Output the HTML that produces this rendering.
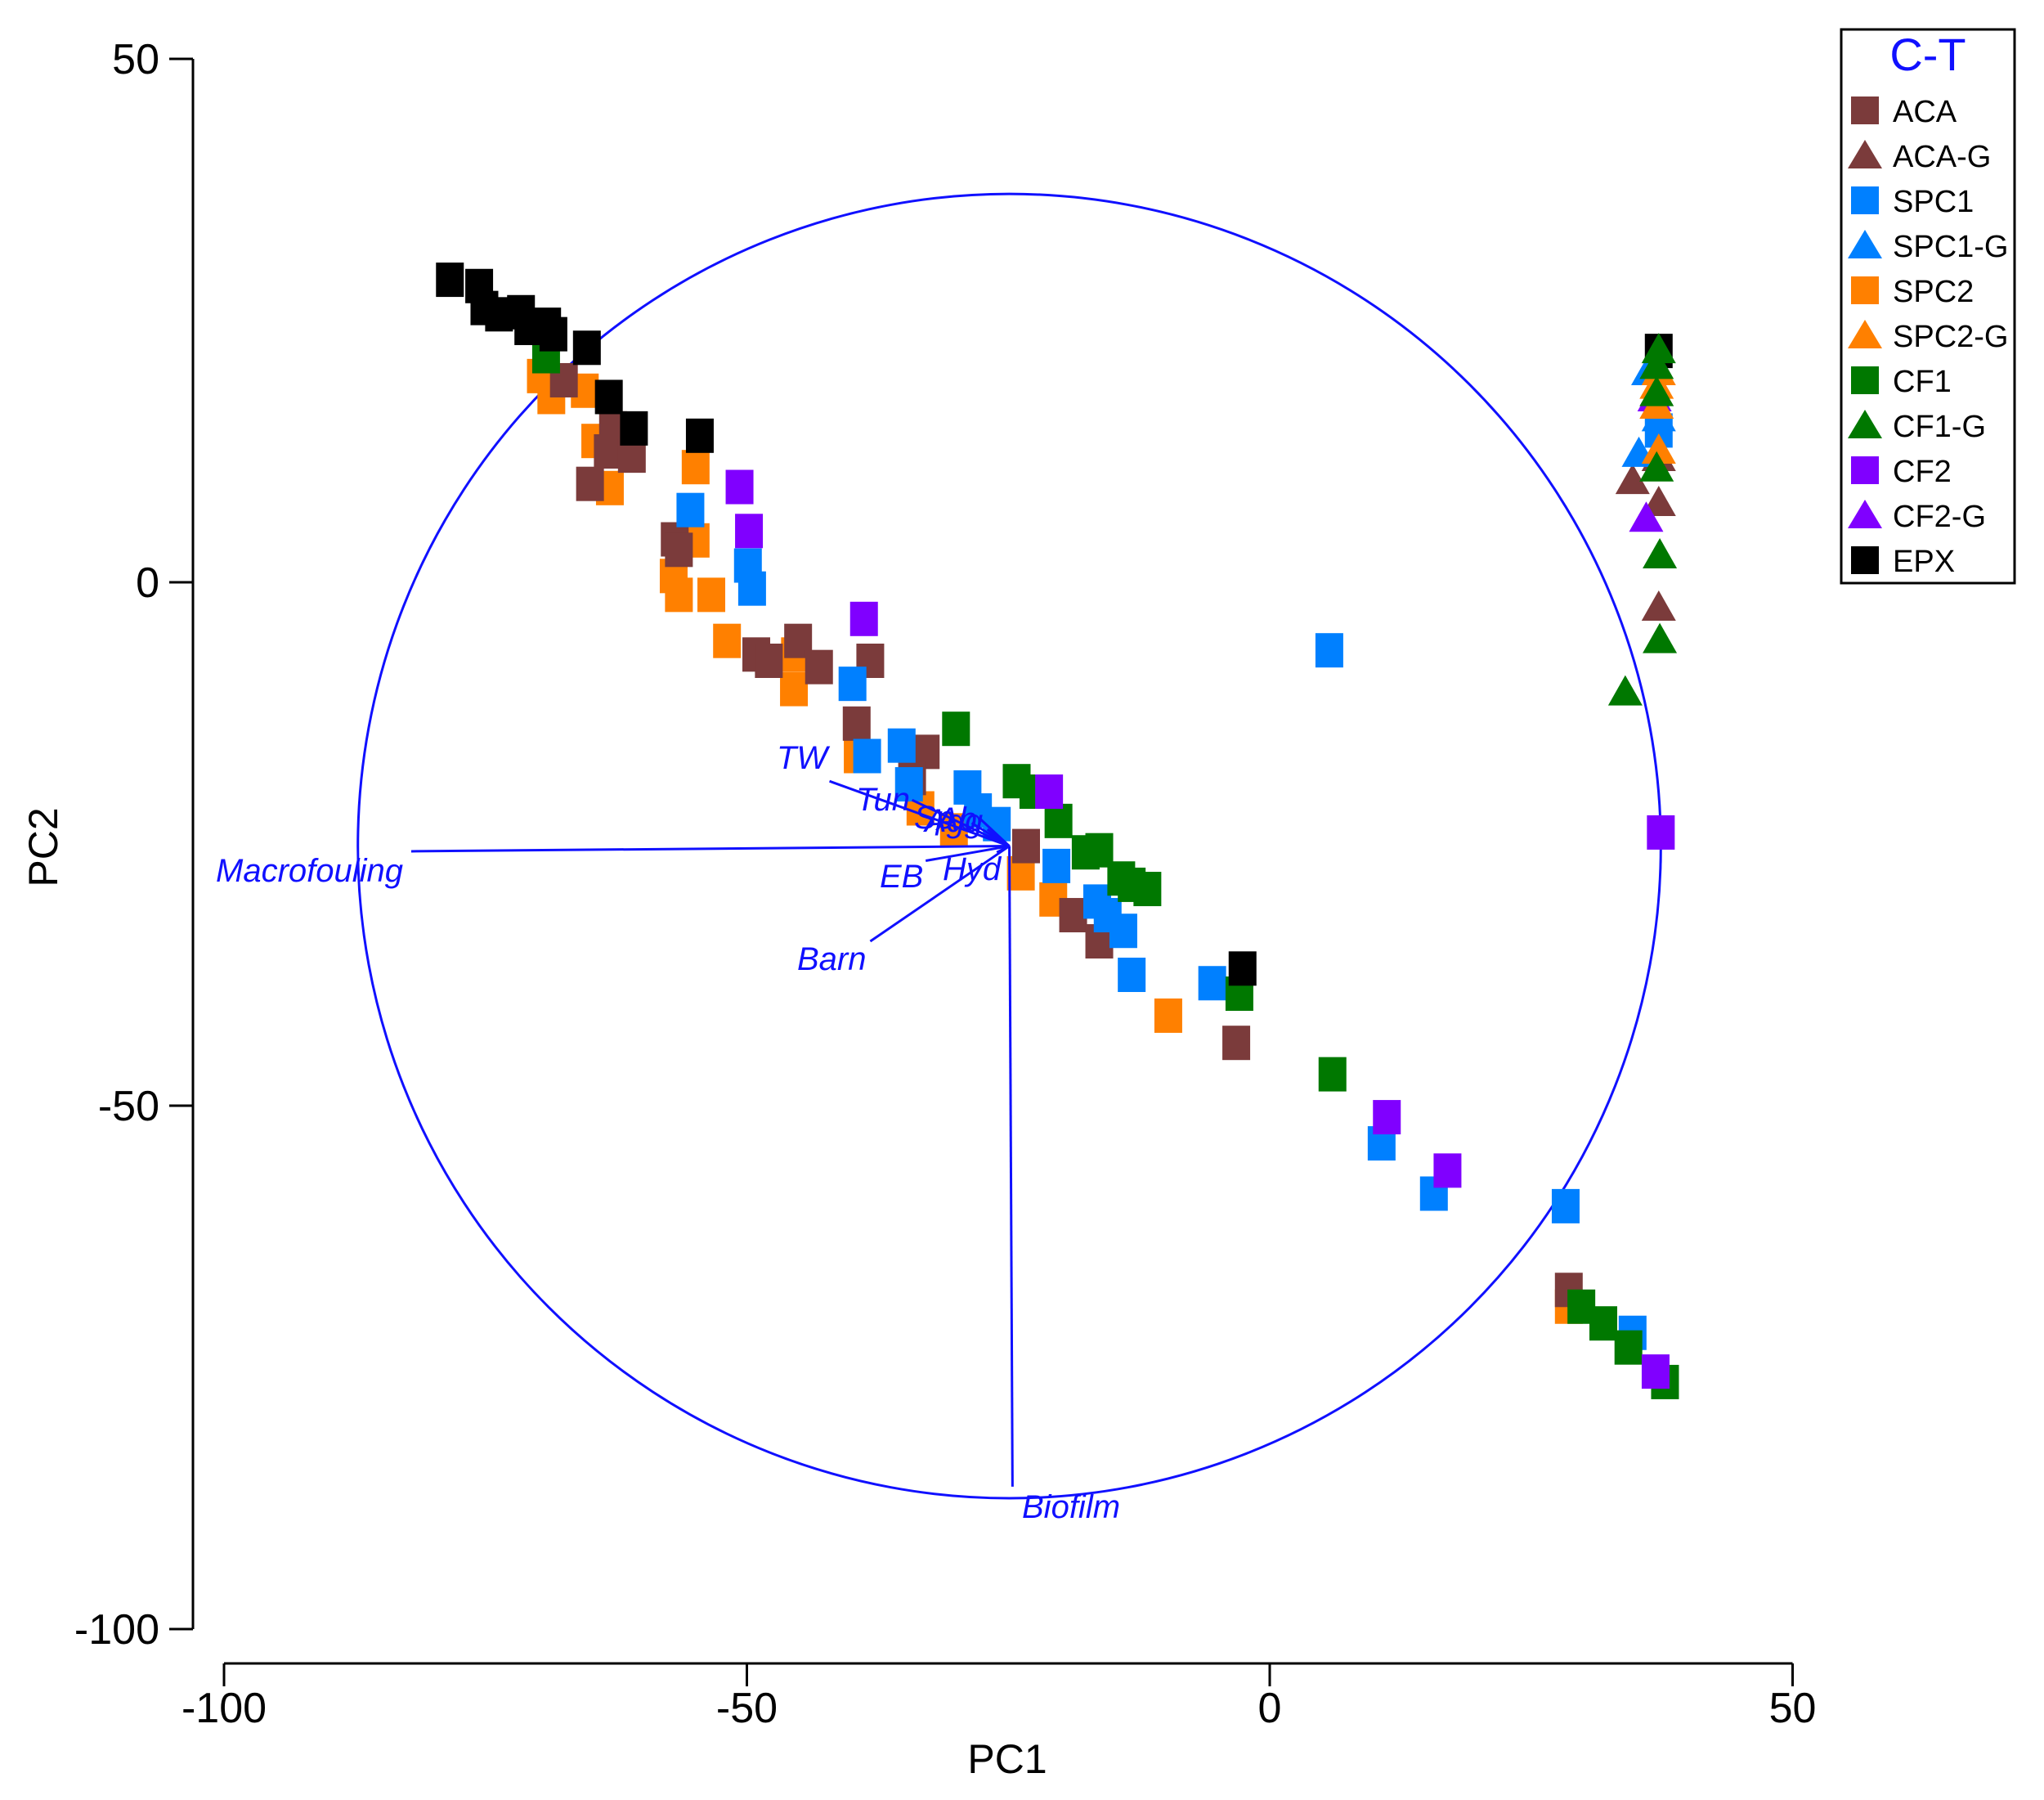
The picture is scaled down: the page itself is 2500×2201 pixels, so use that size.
<!DOCTYPE html>
<html><head><meta charset="utf-8"><style>
html,body{margin:0;padding:0;background:#fff;}
svg{display:block;font-family:"Liberation Sans",Arial,sans-serif;}
</style></head><body>
<svg id="chart" width="2500" height="2201" viewBox="0 0 2500 2201" xmlns="http://www.w3.org/2000/svg"></svg>
<script>
// ---- data ----
const xTicks = [-100, -50, 0, 50];
const yTicks = [50, 0, -50, -100];
const groupNames = ["ACA","ACA-G","SPC1","SPC1-G","SPC2","SPC2-G","CF1","CF1-G","CF2","CF2-G","EPX"];
const groupColors = ["#7b3b3b","#7b3b3b","#0080ff","#0080ff","#ff8000","#ff8000","#007800","#007800","#8000ff","#8000ff","#000000"];
const groupShapes = ["s","t","s","t","s","t","s","t","s","t","s"];
const acaX = [-67.5,-62.8,-63.3,-61.0,-65.0,-56.9,-56.5,-49.1,-47.9,-45.1,-43.1,-38.2,-39.5,-32.9,-34.2,-23.3,-18.8,-16.3,-3.2,28.6];
const acaY = [19.3,14.7,12.5,12.1,9.4,4.1,3.1,-6.9,-7.5,-5.6,-8.1,-7.5,-13.5,-16.2,-18.7,-25.2,-31.8,-34.3,-44.0,-67.6];
const acaGX = [34.7,37.2,37.2,37.2];
const acaGY = [9.6,7.5,-2.5,11.8];
const spc1X = [-55.4,-49.9,-49.5,-39.9,-38.5,-35.2,-34.5,-28.9,-27.9,-26.1,-20.4,-16.5,-15.5,-14.0,-13.2,-5.5,5.7,10.7,15.7,28.3,34.7,37.2];
const spc1Y = [6.9,1.6,-0.6,-9.7,-16.6,-15.6,-19.3,-19.6,-21.8,-23.1,-27.1,-30.5,-31.8,-33.3,-37.5,-38.3,-6.5,-53.6,-58.4,-59.6,-71.7,14.5];
const spc1GX = [36.2,35.3,37.2];
const spc1GY = [20.0,12.2,15.6];
const spc2X = [-69.7,-68.7,-65.5,-64.5,-63.1,-54.9,-54.9,-57.0,-56.5,-53.4,-51.9,-45.4,-45.5,-39.4,-33.4,-30.2,-23.8,-20.7,-9.7,28.6];
const spc2Y = [19.7,17.7,18.3,13.5,9.0,11.0,4.0,0.6,-1.2,-1.2,-5.6,-6.9,-10.2,-16.6,-21.6,-23.7,-27.8,-30.3,-41.4,-69.2];
const spc2GX = [37.0,37.0,37.2,37.2];
const spc2GY = [18.7,16.8,12.5,20.0];
const cf1X = [-69.2,-30.0,-24.2,-22.6,-20.2,-17.6,-16.3,-14.2,-13.2,-11.7,-2.9,6.0,29.8,31.9,34.3,37.8];
const cf1Y = [21.6,-14.0,-19.0,-20.0,-22.8,-25.8,-25.6,-28.3,-28.9,-29.3,-39.3,-47.0,-69.2,-70.8,-73.1,-76.4];
const cf1GX = [37.2,37.0,37.0,37.3,37.3,34.0,37.0];
const cf1GY = [22.1,20.6,10.8,2.5,-5.6,-10.6,18.0];
const cf2X = [-50.7,-49.8,-38.8,-21.1,11.2,17.0,37.4,36.9];
const cf2Y = [9.1,4.9,-3.5,-20.0,-51.1,-56.2,-23.9,-75.4];
const cf2GX = [36.0,36.8];
const cf2GY = [6.0,17.5];
const epxX = [-78.4,-75.6,-75.1,-73.7,-71.6,-70.9,-69.1,-68.5,-65.3,-63.2,-60.8,-54.5,-2.6,37.2];
const epxY = [28.9,28.3,26.2,25.6,25.8,24.3,24.6,23.7,22.4,17.7,14.7,14.0,-36.9,22.1];
const vecNames = ["Macrofouling","Biofilm","Barn","TW","EB","Hyd","Tun","Sp","Agg","Ab"];
const vecX = [-82.1,-24.6,-38.2,-42.1,-32.9,-26.1,-34.2,-28.5,-27.8,-27.0];
const vecY = [-25.7,-86.4,-34.3,-19.0,-26.6,-25.8,-20.8,-23.0,-22.5,-23.6];
const vecOrigin = [-24.9,-25.2];
const circleRadius = 62.3;

// ---- scales ----
const X = v => 274 + (v + 100) * 12.79;
const Y = v => 72 + (50 - v) * 12.8;
const NS = "http://www.w3.org/2000/svg";
const svg = document.getElementById("chart");
function mk(tag, attrs, parent) {
  const e = document.createElementNS(NS, tag);
  for (const k in attrs) e.setAttribute(k, attrs[k]);
  (parent || svg).appendChild(e);
  return e;
}

// axes
const yAxis = mk("g", {});


mk("line", {x1:236, y1:Y(50), x2:236, y2:Y(-100), stroke:"#000", "stroke-width":3}, yAxis);
yTicks.forEach(t => {
  mk("line", {x1:207, y1:Y(t), x2:236, y2:Y(t), stroke:"#000", "stroke-width":3}, yAxis);
  const tx = mk("text", {x:195, y:Y(t)+18, "text-anchor":"end", "font-size":52, fill:"#000"}, yAxis);
  tx.textContent = t;
  
  
});
const xAxis = mk("g", {});


mk("line", {x1:X(-100), y1:2034, x2:X(50), y2:2034, stroke:"#000", "stroke-width":3}, xAxis);
xTicks.forEach(t => {
  mk("line", {x1:X(t), y1:2034, x2:X(t), y2:2062, stroke:"#000", "stroke-width":3}, xAxis);
  const tx = mk("text", {x:X(t), y:2106, "text-anchor":"middle", "font-size":52, fill:"#000"}, xAxis);
  tx.textContent = t;
  
  
});
const xt = mk("text", {x:1232, y:2168, "text-anchor":"middle", "font-size":50, fill:"#000"});
xt.textContent = "PC1";


const yt = mk("text", {x:0, y:0, "text-anchor":"middle", "font-size":50, fill:"#000", transform:"translate(70,1036) rotate(-90)"});
yt.textContent = "PC2";



// circle
const circ = mk("ellipse", {cx:X(vecOrigin[0]), cy:Y(vecOrigin[1]), rx:circleRadius*12.79, ry:circleRadius*12.8, fill:"none", stroke:"#1010ff", "stroke-width":3});



// points
function drawGroup(xs, ys, gi) {
  const g = mk("g", {});
  
  
  xs.forEach((x, i) => {
    const cx = X(x), cy = Y(ys[i]);
    let m;
    if (groupShapes[gi] === "s") {
      m = mk("rect", {x:cx-17, y:cy-21, width:34, height:42, fill:groupColors[gi]}, g);
    } else {
      m = mk("polygon", {points:`${cx},${cy-22} ${cx+21},${cy+15} ${cx-21},${cy+15}`, fill:groupColors[gi]}, g);
    }
    
    
  });
}
drawGroup(spc2X, spc2Y, 4);
drawGroup(acaX, acaY, 0);
drawGroup(spc1X, spc1Y, 2);
drawGroup(cf1X, cf1Y, 6);
drawGroup(cf2X, cf2Y, 8);
drawGroup(epxX, epxY, 10);
drawGroup(acaGX, acaGY, 1);
drawGroup(cf2GX, cf2GY, 9);
drawGroup(spc1GX, spc1GY, 3);
drawGroup(spc2GX, spc2GY, 5);
drawGroup(cf1GX, cf1GY, 7);

// vectors
const labelPos = [[264,1078],[1250,1856],[975,1186],[950,940],[1076,1085],[1153,1076],[1047,991],[1118,1013],[1131,1017],[1146,1015]];
vecNames.forEach((n, i) => {
  const l = mk("line", {x1:X(vecOrigin[0]), y1:Y(vecOrigin[1]), x2:X(vecX[i]), y2:Y(vecY[i]), stroke:"#1010ff", "stroke-width":3});
  
  
  const t = mk("text", {x:labelPos[i][0], y:labelPos[i][1], "font-size":40, "font-style":"italic", fill:"#1010ff"});
  t.textContent = n;
  
  
});

// legend
const lg = mk("g", {});


mk("rect", {x:2252, y:36, width:212, height:677, fill:"#fff", stroke:"#000", "stroke-width":3}, lg);
const lt = mk("text", {x:2358, y:86, "text-anchor":"middle", "font-size":56, fill:"#1010ff"}, lg);
lt.textContent = "C-T";


groupNames.forEach((n, i) => {
  const cy = 135 + i * 55;
  const e = mk("g", {}, lg);
  
  
  if (groupShapes[i] === "s") mk("rect", {x:2264, y:cy-17, width:34, height:34, fill:groupColors[i]}, e);
  else mk("polygon", {points:`${2281},${cy-19} ${2302},${cy+16} ${2260},${cy+16}`, fill:groupColors[i]}, e);
  const t = mk("text", {x:2315, y:cy+14, "font-size":38, fill:"#000"}, e);
  t.textContent = n;
});
</script>
</body></html>
